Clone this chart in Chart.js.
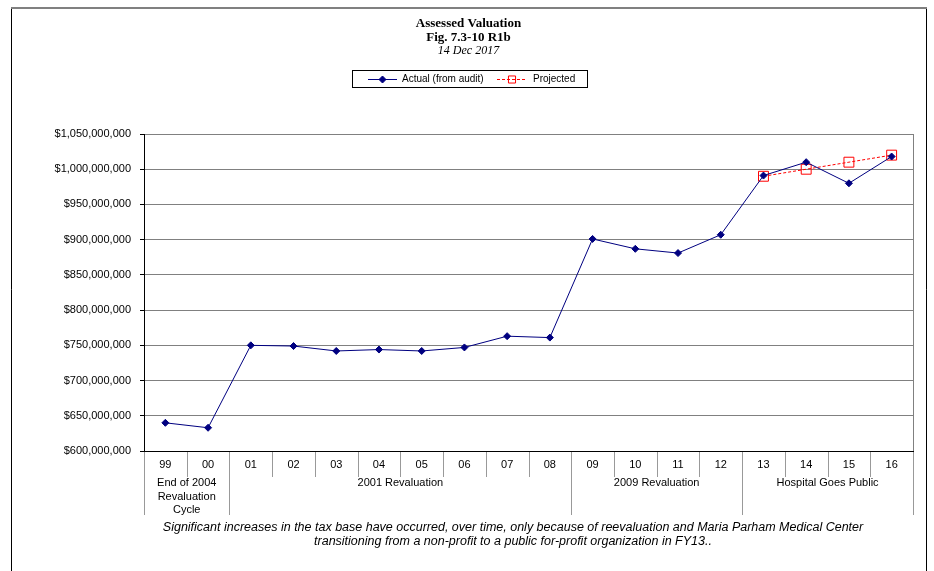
<!DOCTYPE html>
<html>
<head>
<meta charset="utf-8">
<title>Assessed Valuation</title>
<script src="https://cdn.jsdelivr.net/npm/chart.js@4.4.1/dist/chart.umd.min.js"></script>
<style>
  html, body { margin: 0; padding: 0; background: #fff; }
  canvas { display: block; }
</style>
</head>
<body>
<canvas id="valuationChart" width="934" height="571"></canvas>
<script>
const years = ['99', '00', '01', '02', '03', '04', '05', '06', '07', '08',
  '09', '10', '11', '12', '13', '14', '15', '16'];

const actual = [640000000, 633000000, 750000000, 749000000, 742000000, 744000000,
  742000000, 747000000, 763000000, 761000000, 901000000, 887000000, 881000000,
  907000000, 991000000, 1010000000, 980000000, 1018000000];

const projected = [null, null, null, null, null, null, null, null, null, null,
  null, null, null, null, 990000000, 1000000000, 1010000000, 1020000000];

const groupLabels = [
  ['End of 2004', 'Revaluation', 'Cycle'],
  ['2001 Revaluation'],
  ['2009 Revaluation'],
  ['Hospital Goes Public']
];
const groupStart = [0, 2, 10, 14];
const groupEnd = [1, 9, 13, 17];

const titleLines = ['Assessed Valuation', 'Fig. 7.3-10 R1b', '14 Dec 2017'];
const footnote = [
  'Significant increases in the tax base have occurred, over time, only because of reevaluation and Maria Parham Medical Center',
  'transitioning from a non-profit to a public for-profit organization in FY13..'
];

const NAVY = '#000080';
const RED = '#FF0000';
const SANS = '"Liberation Sans", Arial, sans-serif';
const SERIF = '"Liberation Serif", "Times New Roman", serif';

function fmtDollars(value) {
  return '$' + Number(value).toLocaleString('en-US');
}

const framePlugin = {
  id: 'frame',
  beforeDraw(chart) {
    const ctx = chart.ctx;
    ctx.save();
    ctx.fillStyle = '#fff';
    ctx.fillRect(0, 0, chart.width, chart.height);
    ctx.restore();
  },
  afterDraw(chart) {
    const { ctx, chartArea: area } = chart;
    const x = chart.scales.x;
    const step = x.getPixelForValue(1) - x.getPixelForValue(0);
    const edge = (i) => x.getPixelForValue(i) - step / 2;
    const cx = 468.5;

    ctx.save();

    // outer frame
    ctx.strokeStyle = '#000';
    ctx.lineWidth = 1;
    ctx.beginPath();
    ctx.moveTo(11.5, 571);
    ctx.lineTo(11.5, 8.5);
    ctx.moveTo(926.5, 8.5);
    ctx.lineTo(926.5, 571);
    ctx.stroke();
    ctx.strokeStyle = '#808080';
    ctx.lineWidth = 2;
    ctx.beginPath();
    ctx.moveTo(11, 8);
    ctx.lineTo(927, 8);
    ctx.stroke();

    // right edge of plot area
    ctx.strokeStyle = '#808080';
    ctx.lineWidth = 1;
    ctx.beginPath();
    ctx.moveTo(Math.round(area.right) + 0.5, area.top);
    ctx.lineTo(Math.round(area.right) + 0.5, area.bottom);
    ctx.stroke();

    // category separators below the axis
    ctx.strokeStyle = '#999';
    ctx.beginPath();
    for (let i = 0; i <= years.length; i++) {
      const px = Math.round(i === years.length ? area.right : edge(i)) + 0.5;
      const isGroupEdge = groupStart.includes(i) || i === years.length;
      ctx.moveTo(px, area.bottom + 1);
      ctx.lineTo(px, isGroupEdge ? 515 : 477);
    }
    ctx.stroke();

    // group labels
    ctx.fillStyle = '#000';
    ctx.font = `11px ${SANS}`;
    ctx.textAlign = 'center';
    ctx.textBaseline = 'middle';
    groupLabels.forEach((lines, g) => {
      const mid = (edge(groupStart[g]) + edge(groupEnd[g] + 1)) / 2;
      lines.forEach((line, k) => ctx.fillText(line, mid, 483 + k * 13.5));
    });

    // footnote
    ctx.font = `italic 12.5px ${SANS}`;
    footnote.forEach((line, k) => ctx.fillText(line, 513, 528 + k * 14));

    // titles
    ctx.font = `bold 13px ${SERIF}`;
    ctx.fillText(titleLines[0], cx, 24);
    ctx.fillText(titleLines[1], cx, 37.5);
    ctx.font = `italic 12px ${SERIF}`;
    ctx.fillText(titleLines[2], cx, 51);

    // legend
    ctx.strokeStyle = '#000';
    ctx.lineWidth = 1;
    ctx.strokeRect(352.5, 70.5, 235, 17);
    const ly = 79;
    ctx.textAlign = 'left';
    ctx.font = `10px ${SANS}`;

    ctx.strokeStyle = NAVY;
    ctx.beginPath();
    ctx.moveTo(368, ly + 0.5);
    ctx.lineTo(397, ly + 0.5);
    ctx.stroke();
    ctx.fillStyle = NAVY;
    Chart.helpers.drawPoint(ctx, { pointStyle: 'rectRot', radius: 3.5, borderWidth: 1, rotation: 0 }, 382.5, ly + 0.5);
    ctx.fillStyle = '#000';
    ctx.fillText(chart.data.datasets[0].label, 402, ly);

    ctx.strokeStyle = RED;
    ctx.setLineDash([3, 2]);
    ctx.beginPath();
    ctx.moveTo(497, ly + 0.5);
    ctx.lineTo(527, ly + 0.5);
    ctx.stroke();
    ctx.setLineDash([]);
    ctx.fillStyle = 'rgba(0,0,0,0)';
    Chart.helpers.drawPoint(ctx, { pointStyle: 'rect', radius: 5, borderWidth: 1, rotation: 0 }, 512, ly + 0.5);
    ctx.fillStyle = '#000';
    ctx.fillText(chart.data.datasets[1].label, 533, ly);

    ctx.restore();
  }
};

new Chart(document.getElementById('valuationChart'), {
  type: 'line',
  data: {
    labels: years,
    datasets: [
      {
        label: 'Actual (from audit)',
        data: actual,
        borderColor: NAVY,
        backgroundColor: NAVY,
        borderWidth: 1,
        pointStyle: 'rectRot',
        pointRadius: 3.5,
        pointBorderWidth: 1,
        tension: 0,
        fill: false
      },
      {
        label: 'Projected',
        data: projected,
        borderColor: RED,
        backgroundColor: 'rgba(0,0,0,0)',
        borderWidth: 1,
        borderDash: [3, 2],
        pointStyle: 'rect',
        pointRadius: 7,
        pointBorderWidth: 1,
        pointBorderColor: RED,
        pointBackgroundColor: 'rgba(0,0,0,0)',
        tension: 0,
        fill: false
      }
    ]
  },
  options: {
    responsive: false,
    animation: false,
    events: [],
    layout: { padding: { left: 11, right: 21, top: 134, bottom: 0 } },
    plugins: {
      legend: { display: false },
      title: { display: false },
      tooltip: { enabled: false }
    },
    scales: {
      x: {
        type: 'category',
        offset: true,
        grid: { display: false, drawTicks: false },
        border: { color: '#000', width: 1 },
        ticks: {
          color: '#000',
          font: { family: SANS, size: 11 },
          padding: 7,
          maxRotation: 0,
          autoSkip: false
        },
        afterFit(scale) { scale.height = 120; }
      },
      y: {
        min: 600000000,
        max: 1050000000,
        grid: { color: '#808080', tickColor: '#000', tickLength: 4 },
        border: { color: '#000', width: 1 },
        ticks: {
          stepSize: 50000000,
          color: '#000',
          font: { family: SANS, size: 11 },
          padding: 9,
          callback: (value) => fmtDollars(value)
        },
        afterFit(scale) { scale.width = 133; }
      }
    }
  },
  plugins: [framePlugin]
});
</script>
</body>
</html>
